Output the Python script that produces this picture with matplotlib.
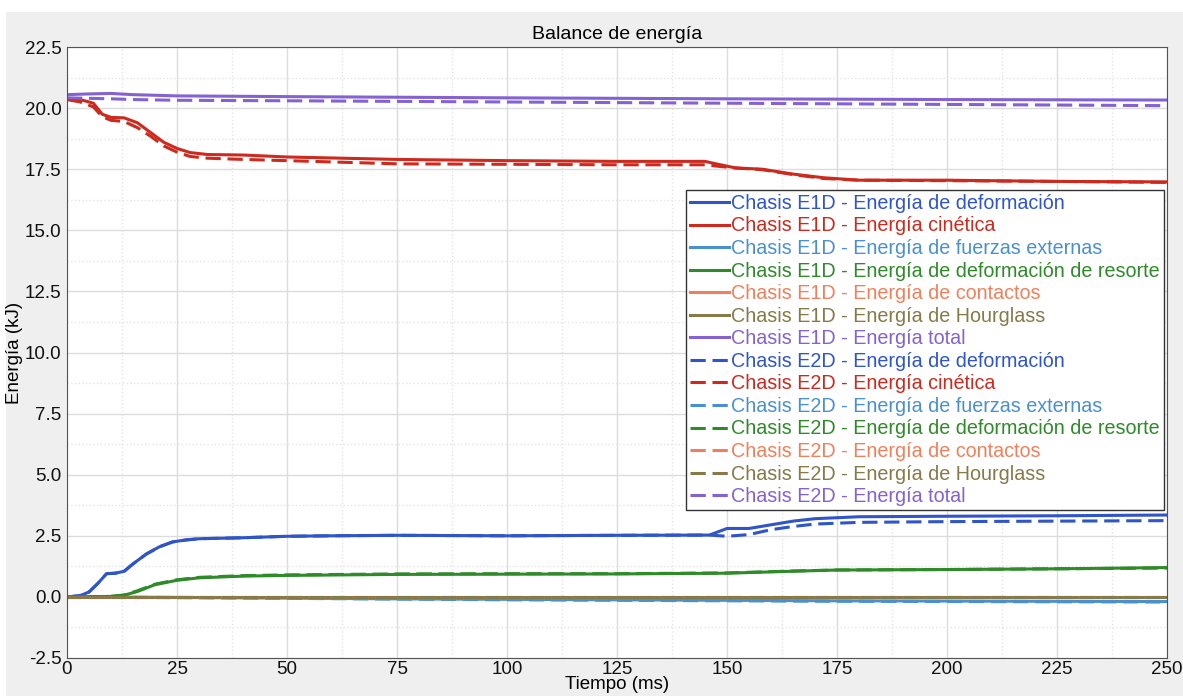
import matplotlib.pyplot as plt
from matplotlib.patches import Rectangle
from matplotlib.ticker import MultipleLocator

plt.rcParams['font.family'] = ['Liberation Sans', 'DejaVu Sans']

# Tiempo (ms) and energy values (kJ)
t_tot1 = [0, 5, 10, 15, 25, 50, 100, 150, 200, 250]
tot_e1 = [20.55, 20.58, 20.6, 20.55, 20.5, 20.47, 20.42, 20.38, 20.35, 20.33]
t_tot2 = [0, 5, 10, 15, 25, 50, 100, 150, 200, 250]
tot_e2 = [20.42, 20.4, 20.38, 20.35, 20.32, 20.3, 20.25, 20.2, 20.15, 20.1]

t_kin = [0, 3, 6, 8, 10, 13, 16, 19, 22, 25, 28, 32, 40, 50, 75, 100, 125, 145, 148, 152, 158, 165, 172, 180, 200, 225, 250]
kin_e1 = [20.4, 20.35, 20.2, 19.75, 19.62, 19.6, 19.4, 19.0, 18.6, 18.35, 18.18, 18.1, 18.08, 18.0, 17.9, 17.85, 17.82, 17.82, 17.7, 17.55, 17.5, 17.3, 17.15, 17.05, 17.05, 17.0, 16.98]
kin_e2 = [20.35, 20.25, 20.05, 19.65, 19.5, 19.45, 19.2, 18.85, 18.45, 18.2, 18.02, 17.95, 17.9, 17.85, 17.72, 17.7, 17.68, 17.68, 17.62, 17.55, 17.48, 17.28, 17.12, 17.05, 17.03, 17.0, 16.96]

t_def = [0, 3, 5, 7, 9, 11, 13, 15, 18, 21, 24, 27, 30, 40, 50, 60, 75, 100, 125, 146, 150, 155, 160, 165, 170, 180, 200, 225, 250]
def_e1 = [0.0, 0.05, 0.2, 0.55, 0.95, 0.97, 1.05, 1.35, 1.75, 2.05, 2.25, 2.33, 2.38, 2.42, 2.48, 2.5, 2.52, 2.5, 2.52, 2.53, 2.8, 2.8, 2.95, 3.1, 3.2, 3.28, 3.3, 3.32, 3.35]
def_e2 = [0.0, 0.05, 0.2, 0.55, 0.95, 0.97, 1.05, 1.35, 1.75, 2.05, 2.25, 2.33, 2.38, 2.42, 2.48, 2.5, 2.52, 2.5, 2.52, 2.53, 2.48, 2.55, 2.75, 2.88, 2.98, 3.05, 3.08, 3.1, 3.12]

t_spr = [0, 10, 13, 16, 20, 25, 30, 40, 50, 75, 100, 125, 150, 165, 175, 200, 225, 250]
spr_e1 = [0.0, 0.02, 0.07, 0.22, 0.5, 0.68, 0.78, 0.85, 0.88, 0.92, 0.93, 0.94, 0.97, 1.05, 1.1, 1.12, 1.15, 1.2]
spr_e2 = [0.0, 0.02, 0.08, 0.25, 0.52, 0.7, 0.8, 0.87, 0.9, 0.94, 0.95, 0.95, 0.98, 1.06, 1.1, 1.12, 1.15, 1.18]

t_ext = [0, 25, 50, 75, 100, 125, 150, 175, 200, 225, 250]
ext_e1 = [0.0, -0.02, -0.05, -0.08, -0.1, -0.12, -0.14, -0.16, -0.17, -0.18, -0.19]
ext_e2 = [0.0, -0.03, -0.06, -0.09, -0.12, -0.14, -0.16, -0.18, -0.19, -0.2, -0.21]

t_flat = [0, 250]
con_e1 = [0.0, 0.0]
con_e2 = [0.0, 0.0]
hg_e1 = [0.0, 0.0]
hg_e2 = [0.0, 0.0]

names = ['Energía de deformación', 'Energía cinética', 'Energía de fuerzas externas',
         'Energía de deformación de resorte', 'Energía de contactos',
         'Energía de Hourglass', 'Energía total']
colors = ['#2f55c8', '#cc2a1e', '#4a90d0', '#2f8a2a', '#f0805c', '#857a48', '#8462d2']

series_e1 = [(t_def, def_e1), (t_kin, kin_e1), (t_ext, ext_e1), (t_spr, spr_e1),
             (t_flat, con_e1), (t_flat, hg_e1), (t_tot1, tot_e1)]
series_e2 = [(t_def, def_e2), (t_kin, kin_e2), (t_ext, ext_e2), (t_spr, spr_e2),
             (t_flat, con_e2), (t_flat, hg_e2), (t_tot2, tot_e2)]

fig = plt.figure(figsize=(11.83, 6.96), dpi=100, facecolor='white')
fig.patches.append(Rectangle((6 / 1183, 0), 1, 1 - 12 / 696, transform=fig.transFigure,
                             facecolor='#efefef', edgecolor='none', zorder=-10))
ax = fig.add_axes([67 / 1183, 38 / 696, 1100 / 1183, 611 / 696])
ax.set_facecolor('white')

lines = []
for (t, y), name, c in zip(series_e1, names, colors):
    ln, = ax.plot(t, y, color=c, lw=2.2, label='Chasis E1D - ' + name)
    lines.append(ln)
for (t, y), name, c in zip(series_e2, names, colors):
    ln, = ax.plot(t, y, color=c, lw=2.2, ls=(0, (5, 2.2)), label='Chasis E2D - ' + name)
    lines.append(ln)

ax.set_xlim(0, 250)
ax.set_ylim(-2.5, 22.5)
ax.xaxis.set_major_locator(MultipleLocator(25))
ax.xaxis.set_minor_locator(MultipleLocator(12.5))
ax.yaxis.set_major_locator(MultipleLocator(2.5))
ax.yaxis.set_minor_locator(MultipleLocator(1.25))
ax.yaxis.set_major_formatter(plt.FormatStrFormatter('%.1f'))
ax.grid(which='major', color='#dcdcdc', lw=1)
ax.grid(which='minor', color='#e4e4e4', lw=1, ls=':')
ax.set_axisbelow(True)
ax.tick_params(which='both', length=0, labelsize=13.5, colors='#111111')
ax.tick_params(axis='x', pad=2)
ax.tick_params(axis='y', pad=4)
for s in ax.spines.values():
    s.set_color('#555555')

ax.set_title('Balance de energía', fontsize=14, pad=6)
ax.set_xlabel('Tiempo (ms)', fontsize=13.5, labelpad=-1)
ax.set_ylabel('Energía (kJ)', fontsize=13.5, labelpad=1)

leg = ax.legend(handles=lines, loc='upper left', bbox_to_anchor=(0.5627, 0.766),
                fontsize=14.2, frameon=True, fancybox=False, framealpha=1,
                edgecolor='#333333', handlelength=2.0, handletextpad=0.1,
                labelspacing=0.18, borderpad=0.2, borderaxespad=0)
leg.get_frame().set_linewidth(1)
for txt, c in zip(leg.get_texts(), colors * 2):
    txt.set_color(c)

fig.savefig('out.png', dpi=100, facecolor=fig.get_facecolor())
